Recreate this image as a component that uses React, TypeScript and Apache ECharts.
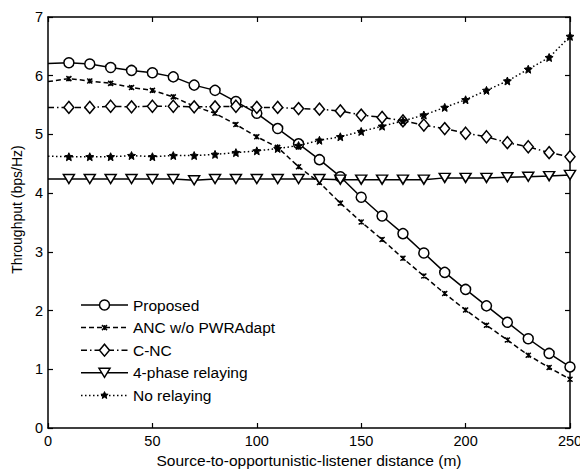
import React, { useEffect, useRef } from "react";
import * as echarts from "echarts";

const distances = [0, 10, 20, 30, 40, 50, 60, 70, 80, 90, 100, 110, 120, 130, 140, 150, 160, 170, 180, 190, 200, 210, 220, 230, 240, 250];
const proposed = [6.21, 6.22, 6.2, 6.14, 6.09, 6.05, 5.98, 5.84, 5.75, 5.56, 5.36, 5.1, 4.84, 4.57, 4.28, 3.93, 3.61, 3.31, 2.98, 2.65, 2.36, 2.08, 1.8, 1.52, 1.27, 1.04];
const ancNoPwr = [5.9, 5.95, 5.91, 5.87, 5.8, 5.75, 5.64, 5.48, 5.36, 5.17, 4.96, 4.78, 4.45, 4.18, 3.83, 3.51, 3.21, 2.89, 2.59, 2.29, 2.01, 1.75, 1.5, 1.24, 1.03, 0.83];
const cnc = [5.46, 5.46, 5.46, 5.48, 5.47, 5.48, 5.48, 5.47, 5.47, 5.48, 5.46, 5.46, 5.44, 5.43, 5.4, 5.33, 5.29, 5.23, 5.16, 5.1, 5.02, 4.96, 4.86, 4.79, 4.69, 4.62];
const fourPhase = [4.24, 4.24, 4.24, 4.24, 4.24, 4.24, 4.24, 4.22, 4.24, 4.24, 4.24, 4.24, 4.24, 4.24, 4.23, 4.23, 4.23, 4.23, 4.23, 4.26, 4.26, 4.26, 4.27, 4.28, 4.29, 4.31];
const noRelaying = [4.63, 4.62, 4.62, 4.62, 4.64, 4.62, 4.64, 4.64, 4.66, 4.69, 4.72, 4.76, 4.81, 4.9, 4.96, 5.05, 5.14, 5.23, 5.33, 5.46, 5.59, 5.75, 5.91, 6.11, 6.31, 6.67];
const seriesNames = ["Proposed", "ANC w/o PWRAdapt", "C-NC", "4-phase relaying", "No relaying"];
const xTicks = { min: 0, max: 250, interval: 50 };
const yTicks = { min: 0, max: 7, interval: 1 };

const FONT = "Arial, 'Liberation Sans', sans-serif";

const DASHES: Record<string, any> = {
  solid: "solid",
  dashed: [5, 3],
  dashdot: [6, 3, 1.5, 3],
  dotted: [1.5, 2.5],
};
const lineKinds = ["solid", "dashed", "dashdot", "solid", "dotted"];
const markerKinds = ["circle", "asterisk", "diamond", "triangle", "star"];

const STAR = "M5 0L6.3 3.2L10 3.8L7.2 6.2L8 10L5 8L2 10L2.8 6.2L0 3.8L3.7 3.2Z";
const ASTER = "M0 0L10 10M0 10L10 0M5 0L5 10";

function pts(values: number[]) {
  return values.map((v, i) =>
    i === 0 ? { value: [distances[i], v], symbol: "none" } : { value: [distances[i], v] }
  );
}

function legendMarker(kind: string, cx: number, cy: number): any {
  const hollow = { fill: "#fff", stroke: "#000", lineWidth: 1.5 };
  if (kind === "circle") return { type: "circle", shape: { cx, cy, r: 5 }, style: hollow };
  if (kind === "diamond")
    return { type: "polygon", shape: { points: [[cx, cy - 6], [cx + 5, cy], [cx, cy + 6], [cx - 5, cy]] }, style: hollow };
  if (kind === "triangle")
    return { type: "polygon", shape: { points: [[cx - 5.5, cy - 4.5], [cx + 5.5, cy - 4.5], [cx, cy + 4.5]] }, style: hollow };
  if (kind === "star") {
    const p: number[][] = [];
    for (let k = 0; k < 10; k++) {
      const r = k % 2 === 0 ? 3.8 : 1.7;
      const a = -Math.PI / 2 + (k * Math.PI) / 5;
      p.push([cx + r * Math.cos(a), cy + r * Math.sin(a)]);
    }
    return { type: "polygon", shape: { points: p }, style: { fill: "#000", stroke: "#000", lineWidth: 1 } };
  }
  const s = 2.5;
  const ls = { stroke: "#000", lineWidth: 1.5 };
  return {
    type: "group",
    children: [
      { type: "line", shape: { x1: cx - s, y1: cy - s, x2: cx + s, y2: cy + s }, style: ls },
      { type: "line", shape: { x1: cx - s, y1: cy + s, x2: cx + s, y2: cy - s }, style: ls },
      { type: "line", shape: { x1: cx, y1: cy - s, x2: cx, y2: cy + s }, style: ls },
    ],
  };
}

export default function App() {
  const ref = useRef<HTMLDivElement>(null);
  useEffect(() => {
    if (!ref.current) return;
    const chart = echarts.init(ref.current, null, { renderer: "svg" });
    const axisLine = { show: true, onZero: false, lineStyle: { color: "#000", width: 1.5 } };
    const axisTick = { show: true, inside: true, length: 5, lineStyle: { color: "#000", width: 1.2 } };
    const base = {
      type: "line",
      xAxisIndex: 0,
      yAxisIndex: 0,
      showAllSymbol: true,
      clip: false,
    };

    const legendTop = 305;
    const legendStep = 22.6;
    const legendGraphics: any[] = [];
    seriesNames.forEach((name, i) => {
      const cy = legendTop + i * legendStep;
      const dash = DASHES[lineKinds[i]];
      legendGraphics.push({
        type: "line",
        shape: { x1: 81, y1: cy, x2: 128, y2: cy },
        style: { stroke: "#000", lineWidth: 1.5, lineDash: dash === "solid" ? null : dash },
      });
      legendGraphics.push(legendMarker(markerKinds[i], 104.5, cy));
      legendGraphics.push({
        type: "text",
        x: 133,
        y: cy,
        style: { text: name, fill: "#000", font: `15.5px ${FONT}`, verticalAlign: "middle", align: "left" },
      });
    });

    chart.setOption({
      animation: false,
      backgroundColor: "#fff",
      textStyle: { fontFamily: FONT },
      grid: { left: 48, right: 10, top: 17, bottom: 41, containLabel: false, outerBoundsMode: "none" },
      graphic: legendGraphics,
      xAxis: [
        {
          type: "value",
          position: "bottom",
          ...xTicks,
          axisLine,
          axisTick,
          splitLine: { show: false },
          axisLabel: { color: "#000", fontSize: 14.5, fontFamily: FONT, margin: 5, showMaxLabel: true, showMinLabel: true },
          name: "Source-to-opportunistic-listener distance (m)",
          nameLocation: "middle",
          nameGap: 20,
          nameTextStyle: { color: "#000", fontSize: 15.5, fontFamily: FONT, verticalAlign: "top" },
        },
        {
          type: "value",
          position: "top",
          ...xTicks,
          axisLine,
          axisTick,
          splitLine: { show: false },
          axisLabel: { show: false },
        },
      ],
      yAxis: [
        {
          type: "value",
          position: "left",
          ...yTicks,
          axisLine,
          axisTick,
          splitLine: { show: false },
          axisLabel: { color: "#000", fontSize: 14.5, fontFamily: FONT, margin: 5 },
          name: "Throughput (bps/Hz)",
          nameLocation: "middle",
          nameGap: 24,
          nameTextStyle: { color: "#000", fontSize: 14, fontFamily: FONT, padding: [0, 0, 0, 26] },
        },
        {
          type: "value",
          position: "right",
          ...yTicks,
          axisLine,
          axisTick,
          splitLine: { show: false },
          axisLabel: { show: false },
        },
      ],
      series: [
        {
          ...base,
          name: seriesNames[0],
          data: pts(proposed),
          symbol: "circle",
          symbolSize: 10,
          lineStyle: { color: "#000", width: 1.5, type: DASHES[lineKinds[0]] },
          itemStyle: { color: "#fff", borderColor: "#000", borderWidth: 1.5 },
        },
        {
          ...base,
          name: seriesNames[1],
          data: pts(ancNoPwr),
          symbol: "path://" + ASTER,
          symbolSize: 5,
          lineStyle: { color: "#000", width: 1.5, type: DASHES[lineKinds[1]] },
          itemStyle: { color: "#000", borderColor: "#000", borderWidth: 1.5 },
        },
        {
          ...base,
          name: seriesNames[2],
          data: pts(cnc),
          symbol: "diamond",
          symbolSize: [10, 12],
          lineStyle: { color: "#000", width: 1.5, type: DASHES[lineKinds[2]] },
          itemStyle: { color: "#fff", borderColor: "#000", borderWidth: 1.5 },
        },
        {
          ...base,
          name: seriesNames[3],
          data: pts(fourPhase),
          symbol: "triangle",
          symbolRotate: 180,
          symbolSize: [11, 9],
          lineStyle: { color: "#000", width: 1.5, type: DASHES[lineKinds[3]] },
          itemStyle: { color: "#fff", borderColor: "#000", borderWidth: 1.5 },
        },
        {
          ...base,
          name: seriesNames[4],
          data: pts(noRelaying),
          symbol: "path://" + STAR,
          symbolSize: 8,
          lineStyle: { color: "#000", width: 1.5, type: DASHES[lineKinds[4]] },
          itemStyle: { color: "#000", borderColor: "#000", borderWidth: 1 },
        },
      ],
    });
    return () => chart.dispose();
  }, []);
  return <div ref={ref} style={{ position: "fixed", left: 0, top: 0, width: 580, height: 469 }} />;
}
